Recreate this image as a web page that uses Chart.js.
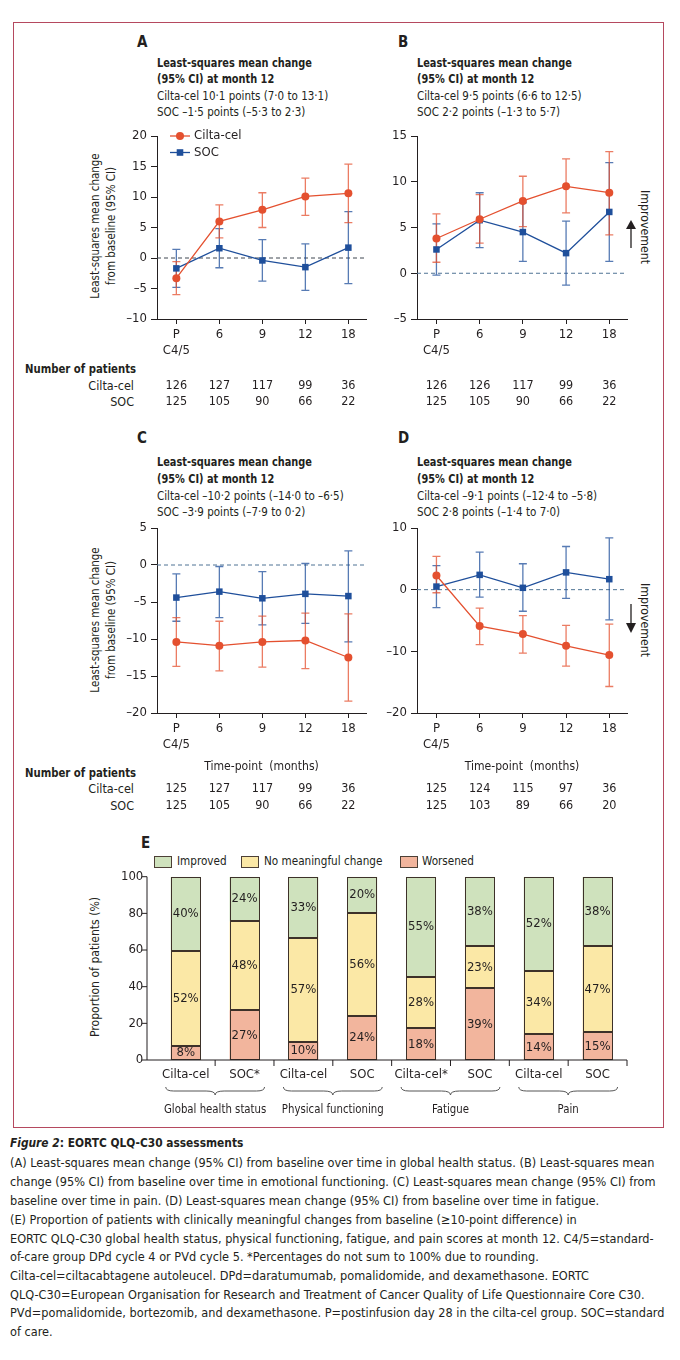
<!DOCTYPE html>
<html>
<head>
<meta charset="utf-8">
<script src="https://cdn.jsdelivr.net/npm/chart.js@4.4.1/dist/chart.umd.min.js"></script>
<style>
  body { margin: 0; background: #fff; }
  #page { position: relative; width: 680px; height: 1360px; overflow: hidden;
          font-family: "Liberation Sans Narrow", "DejaVu Sans Condensed", "Open Sans", sans-serif; color: #231f20; }
  .abs { position: absolute; white-space: nowrap; }
  .frame { position: absolute; left: 13px; top: 22px; width: 649px; height: 1104px; border: 1px solid #b5495f; }
  .letter { font-size: 15px; font-weight: bold; }
  .head { font-size: 12.5px; line-height: 16.6px; }
  .hb { font-weight: bold; transform: scaleX(0.87); transform-origin: 0 0; }
  .hr { transform: scaleX(0.92); transform-origin: 0 0; }
  .rot { position: absolute; white-space: nowrap; text-align: center; font-size: 13px; line-height: 15.5px; }
  .small { font-size: 12.5px; transform-origin: 0 0; }
  .lbl { font-size: 12.5px; text-align: right; width: 100px; }
  .box { position: absolute; width: 18px; height: 12px; border: 1px solid #4d4036; box-sizing: border-box; }
  .cap { position: absolute; left: 10px; font-size: 13px; white-space: nowrap; transform: scaleX(0.97); transform-origin: 0 0; }
  canvas { position: absolute; }
</style>
</head>
<body>
<div id="page">
  <div class="frame"></div>

  <!-- panel titles -->
  <div class="abs letter" style="left:137px;top:33px">A</div>
  <div class="abs head" style="left:157px;top:54.7px"><div class="hb">Least-squares mean change</div><div class="hb">(95% CI) at month 12</div><div class="hr">Cilta-cel 10·1 points (7·0 to 13·1)</div><div class="hr">SOC –1·5 points (–5·3 to 2·3)</div></div>
  <div class="abs letter" style="left:398px;top:33px">B</div>
  <div class="abs head" style="left:417px;top:54.7px"><div class="hb">Least-squares mean change</div><div class="hb">(95% CI) at month 12</div><div class="hr">Cilta-cel 9·5 points (6·6 to 12·5)</div><div class="hr">SOC 2·2 points (–1·3 to 5·7)</div></div>
  <div class="abs letter" style="left:137px;top:429px">C</div>
  <div class="abs head" style="left:157px;top:454.4px"><div class="hb">Least-squares mean change</div><div class="hb">(95% CI) at month 12</div><div class="hr">Cilta-cel –10·2 points (–14·0 to –6·5)</div><div class="hr">SOC –3·9 points (–7·9 to 0·2)</div></div>
  <div class="abs letter" style="left:398px;top:429px">D</div>
  <div class="abs head" style="left:417px;top:454.4px"><div class="hb">Least-squares mean change</div><div class="hb">(95% CI) at month 12</div><div class="hr">Cilta-cel –9·1 points (–12·4 to –5·8)</div><div class="hr">SOC 2·8 points (–1·4 to 7·0)</div></div>

  <div class="rot" style="left:102px;top:226px;transform:translate(-50%,-50%) rotate(-90deg) scaleX(0.88)">Least-squares mean change<br>from baseline (95% CI)</div>
  <div class="rot" style="left:102px;top:620px;transform:translate(-50%,-50%) rotate(-90deg) scaleX(0.88)">Least-squares mean change<br>from baseline (95% CI)</div>

  <div class="rot" style="left:645px;top:227px;transform:translate(-50%,-50%) rotate(90deg) scaleX(0.94)">Improvement</div>
  <div class="rot" style="left:645px;top:620px;transform:translate(-50%,-50%) rotate(90deg) scaleX(0.94)">Improvement</div>
  <svg class="abs" style="left:624px;top:218px" width="14" height="32"><line x1="7" y1="8" x2="7" y2="30" stroke="#231f20" stroke-width="1.3"/><polygon points="2,11 12,11 7,2" fill="#231f20"/></svg>
  <svg class="abs" style="left:624px;top:602px" width="14" height="34"><line x1="7" y1="2" x2="7" y2="24" stroke="#231f20" stroke-width="1.3"/><polygon points="2,21 12,21 7,31" fill="#231f20"/></svg>

  <div class="abs small" style="left:25px;top:361px;font-weight:bold;transform:scaleX(0.9)">Number of patients</div>
  <div class="abs lbl" style="left:34px;top:378px">Cilta-cel</div>
  <div class="abs lbl" style="left:34px;top:394px">SOC</div>
  <div class="abs small" style="left:25px;top:765px;font-weight:bold;transform:scaleX(0.9)">Number of patients</div>
  <div class="abs lbl" style="left:34px;top:781px">Cilta-cel</div>
  <div class="abs lbl" style="left:34px;top:798px">SOC</div>

  <!-- panel E -->
  <div class="abs letter" style="left:141px;top:834px">E</div>
  <div class="box" style="left:154px;top:856px;background:#cfe2bd"></div>
  <div class="abs small" style="left:177px;top:853px;transform:scaleX(0.93)">Improved</div>
  <div class="box" style="left:241px;top:856px;background:#fbe8a6"></div>
  <div class="abs small" style="left:264px;top:853px;transform:scaleX(0.93)">No meaningful change</div>
  <div class="box" style="left:400px;top:856px;background:#f2b59d"></div>
  <div class="abs small" style="left:422px;top:853px;transform:scaleX(0.93)">Worsened</div>
  <div class="rot" style="left:95px;top:967px;transform:translate(-50%,-50%) rotate(-90deg) scaleX(0.93)">Proportion of patients (%)</div>

  <canvas id="chartA" width="360" height="300" style="left:20px;top:120px"></canvas>
  <canvas id="chartB" width="290" height="300" style="left:380px;top:120px"></canvas>
  <canvas id="chartC" width="360" height="305" style="left:20px;top:512px"></canvas>
  <canvas id="chartD" width="290" height="305" style="left:380px;top:512px"></canvas>
  <canvas id="chartE" width="640" height="285" style="left:20px;top:840px"></canvas>

  <!-- caption -->
  <div class="cap" style="top:1135px;font-weight:bold;transform:scaleX(0.91)"><i>Figure 2</i>: EORTC QLQ-C30 assessments</div>
  <div class="cap" style="top:1155px">(A) Least-squares mean change (95% CI) from baseline over time in global health status. (B) Least-squares mean</div>
  <div class="cap" style="top:1174px">change (95% CI) from baseline over time in emotional functioning. (C) Least-squares mean change (95% CI) from</div>
  <div class="cap" style="top:1193px">baseline over time in pain. (D) Least-squares mean change (95% CI) from baseline over time in fatigue.</div>
  <div class="cap" style="top:1212px">(E) Proportion of patients with clinically meaningful changes from baseline (≥10-point difference) in</div>
  <div class="cap" style="top:1231px">EORTC QLQ-C30 global health status, physical functioning, fatigue, and pain scores at month 12. C4/5=standard-</div>
  <div class="cap" style="top:1249px">of-care group DPd cycle 4 or PVd cycle 5. *Percentages do not sum to 100% due to rounding.</div>
  <div class="cap" style="top:1268px">Cilta-cel=ciltacabtagene autoleucel. DPd=daratumumab, pomalidomide, and dexamethasone. EORTC</div>
  <div class="cap" style="top:1287px">QLQ-C30=European Organisation for Research and Treatment of Cancer Quality of Life Questionnaire Core C30.</div>
  <div class="cap" style="top:1305px">PVd=pomalidomide, bortezomib, and dexamethasone. P=postinfusion day 28 in the cilta-cel group. SOC=standard</div>
  <div class="cap" style="top:1324px">of care.</div>
</div>

<script>
// Zaman noktaları (A-D)
const timeLabels = [['P', 'C4/5'], '6', '9', '12', '18'];

// A: global health status
const aCilta = [-3.3, 6.0, 7.9, 10.1, 10.6];
const aCiltaLow = [-6.0, 3.3, 5.0, 7.0, 5.8];
const aCiltaHigh = [-0.6, 8.7, 10.7, 13.1, 15.4];
const aSoc = [-1.7, 1.6, -0.4, -1.5, 1.7];
const aSocLow = [-4.8, -1.6, -3.8, -5.3, -4.2];
const aSocHigh = [1.4, 4.8, 3.0, 2.3, 7.6];
const aPatientsCilta = [126, 127, 117, 99, 36];
const aPatientsSoc = [125, 105, 90, 66, 22];

// B: emotional functioning
const bCilta = [3.8, 5.9, 7.9, 9.5, 8.8];
const bCiltaLow = [1.2, 3.3, 5.1, 6.6, 4.2];
const bCiltaHigh = [6.5, 8.6, 10.6, 12.5, 13.3];
const bSoc = [2.6, 5.8, 4.5, 2.2, 6.7];
const bSocLow = [-0.2, 2.8, 1.3, -1.3, 1.3];
const bSocHigh = [5.4, 8.8, 7.7, 5.7, 12.1];
const bPatientsCilta = [126, 126, 117, 99, 36];
const bPatientsSoc = [125, 105, 90, 66, 22];

// C: pain
const cCilta = [-10.4, -10.9, -10.4, -10.2, -12.5];
const cCiltaLow = [-13.7, -14.3, -13.8, -14.0, -18.4];
const cCiltaHigh = [-7.1, -7.6, -6.9, -6.5, -6.6];
const cSoc = [-4.4, -3.6, -4.5, -3.9, -4.2];
const cSocLow = [-7.6, -7.1, -8.1, -7.9, -10.4];
const cSocHigh = [-1.2, -0.2, -0.9, 0.2, 1.9];
const cPatientsCilta = [125, 127, 117, 99, 36];
const cPatientsSoc = [125, 105, 90, 66, 22];

// D: fatigue
const dCilta = [2.3, -5.9, -7.2, -9.1, -10.6];
const dCiltaLow = [-0.5, -8.9, -10.3, -12.4, -15.7];
const dCiltaHigh = [5.4, -3.0, -4.2, -5.8, -5.6];
const dSoc = [0.5, 2.4, 0.3, 2.8, 1.7];
const dSocLow = [-2.9, -1.2, -3.5, -1.4, -4.9];
const dSocHigh = [3.9, 6.1, 4.2, 7.0, 8.4];
const dPatientsCilta = [125, 124, 115, 97, 36];
const dPatientsSoc = [125, 103, 89, 66, 20];

// E: proportions at month 12
const barCategories = ['Cilta-cel', 'SOC*', 'Cilta-cel', 'SOC', 'Cilta-cel*', 'SOC', 'Cilta-cel', 'SOC'];
const barGroups = ['Global health status', 'Physical functioning', 'Fatigue', 'Pain'];
const worsenedValues = [7.6, 27.1, 10, 24, 17.3, 39.1, 14, 15.1];
const noChangeValues = [52, 48.5, 56.7, 56.4, 27.8, 22.9, 34.4, 46.9];
const improvedValues = [40.4, 24.4, 33.3, 19.6, 54.9, 38, 51.6, 38];
const worsenedLabels = ['8%', '27%', '10%', '24%', '18%', '39%', '14%', '15%'];
const noChangeLabels = ['52%', '48%', '57%', '56%', '28%', '23%', '34%', '47%'];
const improvedLabels = ['40%', '24%', '33%', '20%', '55%', '38%', '52%', '38%'];

const INK = '#231f20';
const FONT = '"Liberation Sans Narrow", "DejaVu Sans Condensed", "Open Sans", sans-serif';
Chart.defaults.font.family = FONT;
Chart.defaults.font.size = 13;
Chart.defaults.color = INK;
Chart.defaults.animation = false;

const dash = v => (v < 0 ? '\u2013' + Math.abs(v) : '' + v);

// dar yazı (yatayda sıkıştırılmış)
function narrowText(ctx, text, x, y, sx) {
  ctx.save();
  ctx.translate(x, y);
  ctx.scale(sx, 1);
  ctx.fillText(text, 0, 0);
  ctx.restore();
}

// sıfır çizgisi, hata çubukları, hasta sayıları, lejant
const panelExtras = {
  id: 'panelExtras',
  beforeDatasetsDraw(chart, args, opts) {
    const { ctx, chartArea: a, scales: { x, y } } = chart;
    ctx.save();
    const y0 = y.getPixelForValue(0);
    ctx.strokeStyle = opts.zeroColor;
    ctx.lineWidth = 1;
    ctx.setLineDash([4, 3]);
    ctx.beginPath();
    ctx.moveTo(a.left, y0);
    ctx.lineTo(a.right, y0);
    ctx.stroke();
    ctx.setLineDash([]);
    chart.data.datasets.slice().reverse().forEach(ds => {
      ctx.strokeStyle = ds.errColor;
      ctx.lineWidth = 1.3;
      ds.low.forEach((lo, i) => {
        const px = x.getPixelForValue(i);
        const top = y.getPixelForValue(ds.high[i]);
        const bot = y.getPixelForValue(lo);
        ctx.beginPath();
        ctx.moveTo(px, top); ctx.lineTo(px, bot);
        ctx.moveTo(px - 4, top); ctx.lineTo(px + 4, top);
        ctx.moveTo(px - 4, bot); ctx.lineTo(px + 4, bot);
        ctx.stroke();
      });
    });
    ctx.restore();
  },
  afterDraw(chart, args, opts) {
    const { ctx, chartArea: a, scales: { x } } = chart;
    ctx.save();
    ctx.fillStyle = INK;
    ctx.font = '12.5px ' + FONT;
    ctx.textAlign = 'center';
    ctx.textBaseline = 'middle';
    opts.counts.forEach((row, r) => {
      row.forEach((n, i) => ctx.fillText(n, x.getPixelForValue(i), a.bottom + opts.rows[r]));
    });
    if (opts.timeTitle) {
      ctx.font = '13px ' + FONT;
      narrowText(ctx, 'Time-point  (months)', (a.left + a.right) / 2, a.bottom + opts.timeTitle, 0.93);
    }
    if (opts.legend) {
      chart.data.datasets.forEach((ds, k) => {
        const ly = a.top + k * 16.5;
        ctx.strokeStyle = ds.borderColor;
        ctx.fillStyle = ds.borderColor;
        ctx.lineWidth = 1.3;
        ctx.beginPath();
        ctx.moveTo(a.left + 13, ly); ctx.lineTo(a.left + 33, ly);
        ctx.stroke();
        ctx.beginPath();
        if (ds.pointStyle === 'rect') ctx.rect(a.left + 19.7, ly - 3.3, 6.6, 6.6);
        else ctx.arc(a.left + 23, ly, 4, 0, Math.PI * 2);
        ctx.fill();
        ctx.fillStyle = INK;
        ctx.font = '13px ' + FONT;
        ctx.textAlign = 'left';
        ctx.fillText(ds.label, a.left + 37, ly);
      });
    }
    ctx.restore();
  }
};

function lineChart(id, o) {
  const pts = arr => arr.map((v, i) => ({ x: i, y: v }));
  return new Chart(document.getElementById(id), {
    type: 'line',
    data: {
      datasets: [
        {
          label: 'Cilta-cel', data: pts(o.cilta), low: o.ciltaLow, high: o.ciltaHigh,
          borderColor: '#e4502f', backgroundColor: '#e4502f', errColor: 'rgba(228,80,47,0.75)',
          borderWidth: 1.3, pointStyle: 'circle', pointRadius: 4, pointBorderWidth: 0
        },
        {
          label: 'SOC', data: pts(o.soc), low: o.socLow, high: o.socHigh,
          borderColor: '#1f4f9b', backgroundColor: '#1f4f9b', errColor: 'rgba(31,79,155,0.75)',
          borderWidth: 1.3, pointStyle: 'rect', pointRadius: 4.6, pointBorderWidth: 0
        }
      ]
    },
    options: {
      responsive: false,
      layout: { padding: o.padding },
      plugins: {
        legend: { display: false },
        tooltip: { enabled: false },
        panelExtras: { counts: o.counts, rows: o.rows, timeTitle: o.timeTitle, legend: o.legend, zeroColor: o.zeroColor }
      },
      scales: {
        x: {
          type: 'linear', min: -0.45, max: 4.41,
          afterBuildTicks: s => { s.ticks = timeLabels.map((_, i) => ({ value: i })); },
          afterFit: s => { s.height = 40; },
          ticks: { callback: v => timeLabels[v], autoSkip: false, maxRotation: 0, padding: 3 },
          grid: { drawOnChartArea: false, color: INK, tickLength: 5 },
          border: { color: INK }
        },
        y: {
          min: o.min, max: o.max,
          afterFit: s => { s.width = o.yWidth; },
          ticks: { stepSize: o.step, padding: 4, callback: dash },
          grid: { drawOnChartArea: false, color: INK, tickLength: 6 },
          border: { color: INK }
        }
      }
    },
    plugins: [panelExtras]
  });
}

lineChart('chartA', {
  cilta: aCilta, ciltaLow: aCiltaLow, ciltaHigh: aCiltaHigh,
  soc: aSoc, socLow: aSocLow, socHigh: aSocHigh,
  min: -10, max: 20, step: 5, yWidth: 137, zeroColor: '#3f4650',
  padding: { top: 16, right: 14, bottom: 61, left: 0 },
  counts: [aPatientsCilta, aPatientsSoc], rows: [67, 83], legend: true
});
lineChart('chartB', {
  cilta: bCilta, ciltaLow: bCiltaLow, ciltaHigh: bCiltaHigh,
  soc: bSoc, socLow: bSocLow, socHigh: bSocHigh,
  min: -5, max: 15, step: 5, yWidth: 37, zeroColor: '#4f7394',
  padding: { top: 16, right: 43, bottom: 61, left: 0 },
  counts: [bPatientsCilta, bPatientsSoc], rows: [67, 83]
});
lineChart('chartC', {
  cilta: cCilta, ciltaLow: cCiltaLow, ciltaHigh: cCiltaHigh,
  soc: cSoc, socLow: cSocLow, socHigh: cSocHigh,
  min: -20, max: 5, step: 5, yWidth: 137, zeroColor: '#4f7394',
  padding: { top: 16, right: 14, bottom: 64, left: 0 },
  counts: [cPatientsCilta, cPatientsSoc], rows: [76, 93], timeTitle: 54
});
lineChart('chartD', {
  cilta: dCilta, ciltaLow: dCiltaLow, ciltaHigh: dCiltaHigh,
  soc: dSoc, socLow: dSocLow, socHigh: dSocHigh,
  min: -20, max: 10, step: 10, yWidth: 37, zeroColor: '#4f7394',
  padding: { top: 16, right: 43, bottom: 64, left: 0 },
  counts: [dPatientsCilta, dPatientsSoc], rows: [76, 93], timeTitle: 54
});

// E: yığılmış sütunlar, eksen çizgileri ve gruplama parantezleri
const barExtras = {
  id: 'barExtras',
  afterDatasetsDraw(chart) {
    const { ctx } = chart;
    ctx.save();
    // sütun kenarları: her dilimin çevresi aynı kalınlıkta
    ctx.strokeStyle = '#3d3129';
    ctx.lineWidth = 1;
    chart.data.datasets.forEach((ds, k) => {
      chart.getDatasetMeta(k).data.forEach(bar => {
        const l = Math.round(bar.x - bar.width / 2) + 0.5;
        const r = Math.round(bar.x + bar.width / 2) - 0.5;
        const t = Math.round(bar.y) + 0.5;
        const b = Math.round(bar.base) - 0.5;
        ctx.strokeRect(l, t, r - l, b - t);
      });
    });
    ctx.fillStyle = INK;
    ctx.font = '13px ' + FONT;
    ctx.textAlign = 'center';
    ctx.textBaseline = 'middle';
    chart.data.datasets.forEach((ds, k) => {
      chart.getDatasetMeta(k).data.forEach((bar, i) => {
        ctx.fillText(ds.valueLabels[i], bar.x, (bar.y + bar.base) / 2);
      });
    });
    ctx.restore();
  },
  afterDraw(chart) {
    const { ctx, chartArea: a, scales: { x, y } } = chart;
    const axisX = a.left - 9.3;
    ctx.save();
    ctx.strokeStyle = INK;
    ctx.lineWidth = 1;
    ctx.beginPath();
    ctx.moveTo(axisX, a.top); ctx.lineTo(axisX, a.bottom); ctx.lineTo(a.right, a.bottom);
    y.ticks.forEach(t => {
      const py = y.getPixelForValue(t.value);
      ctx.moveTo(axisX - 5, py); ctx.lineTo(axisX, py);
    });
    const half = (x.getPixelForValue(1) - x.getPixelForValue(0)) / 2;
    barCategories.forEach((_, i) => {
      const px = x.getPixelForValue(i) + half;
      ctx.moveTo(px, a.bottom); ctx.lineTo(px, a.bottom + 6);
    });
    ctx.stroke();
    // parantezler
    ctx.strokeStyle = '#555';
    barGroups.forEach((g, k) => {
      const x0 = x.getPixelForValue(2 * k) - 20;
      const x1 = x.getPixelForValue(2 * k + 1) + 20;
      const xc = (x0 + x1) / 2;
      const yt = a.bottom + 27, ym = a.bottom + 31, yb = a.bottom + 35;
      ctx.beginPath();
      ctx.moveTo(x0, yt);
      ctx.quadraticCurveTo(x0, ym, x0 + 8, ym);
      ctx.lineTo(xc - 9, ym);
      ctx.quadraticCurveTo(xc, ym, xc, yb);
      ctx.quadraticCurveTo(xc, ym, xc + 9, ym);
      ctx.lineTo(x1 - 8, ym);
      ctx.quadraticCurveTo(x1, ym, x1, yt);
      ctx.stroke();
      ctx.fillStyle = INK;
      ctx.font = '13px ' + FONT;
      ctx.textAlign = 'center';
      ctx.textBaseline = 'middle';
      narrowText(ctx, g, xc, a.bottom + 50, 0.87);
    });
    ctx.restore();
  }
};

new Chart(document.getElementById('chartE'), {
  type: 'bar',
  data: {
    labels: barCategories,
    datasets: [
      { label: 'Worsened', data: worsenedValues, valueLabels: worsenedLabels, backgroundColor: '#f2b59d' },
      { label: 'No meaningful change', data: noChangeValues, valueLabels: noChangeLabels, backgroundColor: '#fbe8a6' },
      { label: 'Improved', data: improvedValues, valueLabels: improvedLabels, backgroundColor: '#cfe2bd' }
    ].map(ds => Object.assign(ds, {
      borderWidth: 0, barPercentage: 0.51, categoryPercentage: 1
    }))
  },
  options: {
    responsive: false,
    layout: { padding: { top: 36.7, right: 33, bottom: 37, left: 0 } },
    plugins: { legend: { display: false }, tooltip: { enabled: false } },
    scales: {
      x: {
        stacked: true,
        afterFit: s => { s.height = 28; },
        grid: { display: false, drawTicks: false },
        border: { display: false },
        ticks: { padding: 7, autoSkip: false, maxRotation: 0 }
      },
      y: {
        stacked: true, min: 0, max: 100,
        afterFit: s => { s.width = 136.3; },
        grid: { display: false, drawTicks: false },
        border: { display: false },
        ticks: { stepSize: 20, padding: 13 }
      }
    }
  },
  plugins: [barExtras]
});
</script>
</body>
</html>
